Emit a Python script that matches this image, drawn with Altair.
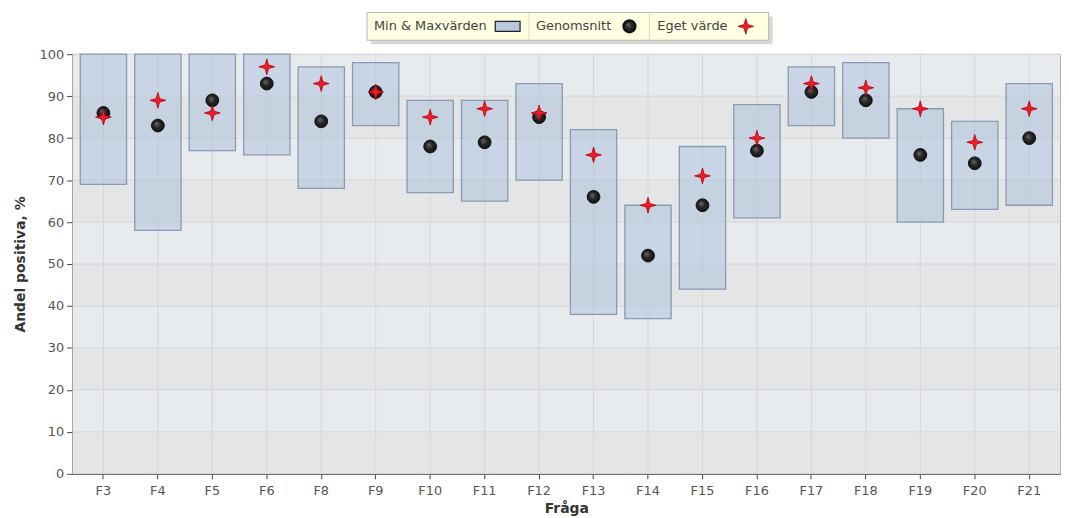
import altair as alt
import pandas as pd

# ---- data ----
categories = ["F3", "F4", "F5", "F6", "F8", "F9", "F10", "F11", "F12",
              "F13", "F14", "F15", "F16", "F17", "F18", "F19", "F20", "F21"]
min_values = [69, 58, 77, 76, 68, 83, 67, 65, 70, 38, 37, 44, 61, 83, 80, 60, 63, 64]
max_values = [100, 100, 100, 100, 97, 98, 89, 89, 93, 82, 64, 78, 88, 97, 98, 87, 84, 93]
mean_values = [86, 83, 89, 93, 84, 91, 78, 79, 85, 66, 52, 64, 77, 91, 89, 76, 74, 80]
own_values = [85, 89, 86, 97, 93, 91, 85, 87, 86, 76, 64, 71, 80, 93, 92, 87, 79, 87]
y_ticks = list(range(0, 101, 10))
legend_labels = ["Min & Maxvärden", "Genomsnitt", "Eget värde"]

W, H = 993, 422
FONT = "DejaVu Sans"
STAR = "M0,-1L0.22,-0.22L1,0L0.22,0.22L0,1L-0.22,0.22L-1,0L-0.22,-0.22Z"

df = pd.DataFrame({"cat": categories, "lo": min_values, "hi": max_values,
                   "mean": mean_values, "own": own_values})
bands = pd.DataFrame({"y0": y_ticks[:-1], "y1": y_ticks[1:],
                      "odd": [i % 2 for i in range(len(y_ticks) - 1)]})
ticks = pd.DataFrame({"v": y_ticks})

xscale = alt.Scale(domain=categories, paddingInner=0.15, paddingOuter=0.14)
yscale = alt.Scale(domain=[0, 100], nice=False)

x_axis = alt.Axis(title="Fråga", labelAngle=0, labelFont=FONT, labelFontSize=13,
                  labelColor="#555", titleFont=FONT, titleFontSize=14,
                  titleFontWeight="bold", titleColor="#333", tickColor="#444",
                  tickSize=5, domainColor="#444", domainWidth=1.5, labelPadding=6,
                  titlePadding=4, grid=False)
y_axis = alt.Axis(title="Andel positiva, %", values=y_ticks, labelFont=FONT,
                  labelFontSize=13, labelColor="#555", titleFont=FONT,
                  titleFontSize=14, titleFontWeight="bold", titleColor="#333",
                  tickColor="#444", tickSize=6, domainColor="#444", domainWidth=1.5,
                  labelPadding=3, titlePadding=12, grid=False)

background = alt.Chart(bands).mark_rect().encode(
    x=alt.value(0), x2=alt.value(W),
    y=alt.Y("y0:Q", scale=yscale, axis=y_axis), y2="y1:Q",
    color=alt.condition("datum.odd == 1", alt.value("#e8ebee"), alt.value("#e4e5e7")),
)

hgrid = alt.Chart(ticks).mark_rule(color="#d4d5d8", strokeWidth=1).encode(
    y=alt.Y("v:Q", scale=yscale), x=alt.value(0), x2=alt.value(W)
)

vgrid = alt.Chart(df).mark_rule(color="#d4d5d8", strokeWidth=1).encode(
    x=alt.X("cat:N", scale=xscale, axis=x_axis, sort=categories),
    y=alt.value(0), y2=alt.value(H)
)

bars = alt.Chart(df).mark_bar(fill="#aec2dc", fillOpacity=0.55, stroke="#8a9ab0",
                              strokeWidth=1.3).encode(
    x=alt.X("cat:N", scale=xscale, sort=categories),
    y=alt.Y("lo:Q", scale=yscale), y2="hi:Q"
)

circle_fill = alt.RadialGradient(gradient="radial", x1=0.38, y1=0.35, r1=0,
                                 x2=0.5, y2=0.5, r2=0.55,
                                 stops=[alt.GradientStop(offset=0, color="#6a6a6a"),
                                        alt.GradientStop(offset=0.5, color="#262626"),
                                        alt.GradientStop(offset=1, color="#111111")])

means = alt.Chart(df).mark_point(shape="circle", filled=True, fill=circle_fill,
                                 stroke="#111", strokeWidth=1, size=165,
                                 opacity=1).encode(
    x=alt.X("cat:N", scale=xscale, sort=categories),
    y=alt.Y("mean:Q", scale=yscale)
)

owns = alt.Chart(df).mark_point(shape=STAR, filled=True, fill="#f01c24",
                                stroke="#b00010", strokeWidth=0.8, size=250,
                                opacity=1).encode(
    x=alt.X("cat:N", scale=xscale, sort=categories),
    y=alt.Y("own:Q", scale=yscale)
)

# ---- custom legend box above the plot ----
one = pd.DataFrame({"k": [0]})
LX0, LX1, LY0, LY1 = 296, 700, -42, -14
LYC = (LY0 + LY1) / 2
seps = [459, 580]

leg = [
    alt.Chart(one).mark_rect(fill="#c8c8c8", opacity=0.7).encode(
        x=alt.value(LX0 + 4), x2=alt.value(LX1 + 4),
        y=alt.value(LY0 + 4), y2=alt.value(LY1 + 4)),
    alt.Chart(one).mark_rect(fill="#ffffe1", stroke="#b8b8a8", strokeWidth=1).encode(
        x=alt.value(LX0), x2=alt.value(LX1), y=alt.value(LY0), y2=alt.value(LY1)),
]
for sx in seps:
    leg.append(alt.Chart(one).mark_rule(color="#dcdcc8", strokeWidth=1).encode(
        x=alt.value(sx), y=alt.value(LY0 + 1), y2=alt.value(LY1 - 1)))
text_x = [303, 466, 588]
for lab, tx in zip(legend_labels, text_x):
    leg.append(alt.Chart(one).mark_text(text=lab, align="left", baseline="middle",
                                        font=FONT, fontSize=13, color="#444").encode(
        x=alt.value(tx), y=alt.value(LYC)))
leg.append(alt.Chart(one).mark_rect(fill="#b8c8dc", stroke="#222", strokeWidth=1.2).encode(
    x=alt.value(425), x2=alt.value(450), y=alt.value(LYC - 5), y2=alt.value(LYC + 5)))
leg.append(alt.Chart(one).mark_point(shape="circle", filled=True, fill=circle_fill,
                                     stroke="#111", size=150, opacity=1).encode(
    x=alt.value(560), y=alt.value(LYC)))
leg.append(alt.Chart(one).mark_point(shape=STAR, filled=True, fill="#f01c24",
                                     stroke="#b00010", strokeWidth=0.8, size=250,
                                     opacity=1).encode(
    x=alt.value(677), y=alt.value(LYC)))

chart = alt.layer(background, hgrid, vgrid, bars, means, owns, *leg).properties(
    width=W, height=H,
    padding={"left": 5, "top": 2, "right": 0, "bottom": 2},
).configure_view(stroke="#b0b0b0", strokeWidth=1)

chart.save("out.html", embed_options={"renderer": "svg", "actions": False})
